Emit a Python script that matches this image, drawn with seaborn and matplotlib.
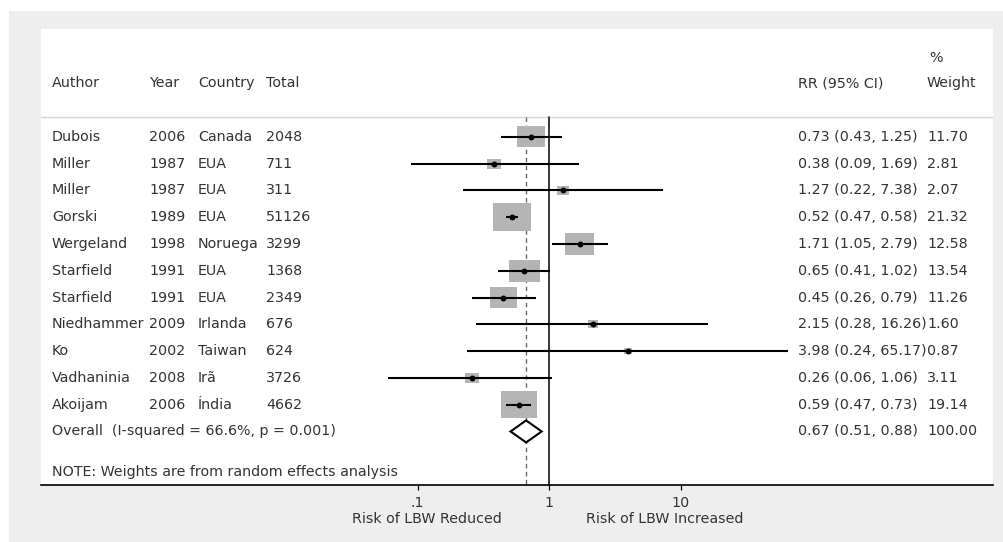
import numpy as np
import pandas as pd
import matplotlib
matplotlib.use("Agg")
import matplotlib.pyplot as plt
import matplotlib.transforms as mtransforms
from matplotlib.path import Path
from matplotlib.ticker import NullLocator
import seaborn as sns

# ---- study data -------------------------------------------------------------
authors = ["Dubois", "Miller", "Miller", "Gorski", "Wergeland", "Starfield",
           "Starfield", "Niedhammer", "Ko", "Vadhaninia", "Akoijam"]
years = [2006, 1987, 1987, 1989, 1998, 1991, 1991, 2009, 2002, 2008, 2006]
countries = ["Canada", "EUA", "EUA", "EUA", "Noruega", "EUA", "EUA",
             "Irlanda", "Taiwan", "Irã", "Índia"]
totals = [2048, 711, 311, 51126, 3299, 1368, 2349, 676, 624, 3726, 4662]
rr = [0.73, 0.38, 1.27, 0.52, 1.71, 0.65, 0.45, 2.15, 3.98, 0.26, 0.59]
ci_low = [0.43, 0.09, 0.22, 0.47, 1.05, 0.41, 0.26, 0.28, 0.24, 0.06, 0.47]
ci_high = [1.25, 1.69, 7.38, 0.58, 2.79, 1.02, 0.79, 16.26, 65.17, 1.06, 0.73]
weights = [11.70, 2.81, 2.07, 21.32, 12.58, 13.54, 11.26, 1.60, 0.87, 3.11, 19.14]

overall_rr, overall_low, overall_high = 0.67, 0.51, 0.88
overall_label = "Overall  (I-squared = 66.6%, p = 0.001)"
note_label = "NOTE: Weights are from random effects analysis"
tick_values = [0.1, 1, 10]
tick_labels = [".1", "1", "10"]

df = pd.DataFrame({"row": np.arange(len(authors)), "rr": rr,
                   "lo": ci_low, "hi": ci_high, "weight": weights})

# ---- style ------------------------------------------------------------------
sns.set_theme(style="white")
plt.rcParams["font.family"] = ["DejaVu Sans"]
FS = 10.3
TXT = "#333333"

W, H = 1004, 542
fig = plt.figure(figsize=(W / 100, H / 100), dpi=100)
fig.patch.set_facecolor("white")

# grey graph region behind the white plot panel
bg = fig.add_axes([9 / W, 0, 1 - 9 / W, 1 - 11 / H], zorder=-5)
bg.set_facecolor("#eeeeee")
bg.set_xticks([])
bg.set_yticks([])
for s in bg.spines.values():
    s.set_visible(False)

ax = fig.add_axes([41 / W, (H - 485) / H, 952 / W, 456 / H], zorder=1)
ax.set_facecolor("white")
ax.set_xscale("log")

# log axis: the plot panel spans ~7.2 decades, with 1 placed at 53% of width
dec = 131.5
ax.set_xlim(10 ** ((41 - 549) / dec), 10 ** ((993 - 549) / dec))
y_top, y_bottom = -4.03, 13.0
ax.set_ylim(y_bottom, y_top)

sep_y = -0.75
n = len(authors)

# header separator, null line and overall-effect line
ax.axhline(sep_y, color="#d6d6d6", lw=1.0, zorder=1)
ax.plot([1, 1], [sep_y, y_bottom], color="black", lw=1.1, zorder=1)
ax.plot([overall_rr, overall_rr], [sep_y, y_bottom], color="#6a6a6a",
        lw=1.0, ls=(0, (3.2, 2.6)), zorder=1)

# weight boxes: area proportional to study weight
box = Path([(-0.5, -0.37), (0.5, -0.37), (0.5, 0.37), (-0.5, 0.37), (-0.5, -0.37)],
           [Path.MOVETO, Path.LINETO, Path.LINETO, Path.LINETO, Path.CLOSEPOLY])
sns.scatterplot(data=df, x="rr", y="row", size="weight", sizes=(0, 748.6),
                size_norm=(0, max(weights)), marker=box, color="#b4b4b4",
                linewidth=0, legend=False, ax=ax, zorder=2)

# confidence intervals
ax.hlines(df["row"], df["lo"], df["hi"], color="black", lw=1.5, zorder=3)

# point estimates
sns.scatterplot(data=df, x="rr", y="row", color="black", s=18, linewidth=0,
                legend=False, ax=ax, zorder=4)

# pooled estimate diamond
oy = n
half_h = 0.41
ax.fill([overall_low, overall_rr, overall_high, overall_rr],
        [oy, oy - half_h, oy, oy + half_h],
        facecolor="white", edgecolor="black", lw=1.5, zorder=3)

# ---- text columns -----------------------------------------------------------
blend = mtransforms.blended_transform_factory(ax.transAxes, ax.transData)

def col(px):
    return (px - 41) / 952

cols = {"author": col(52), "year": col(149), "country": col(198),
        "total": col(266), "rr": col(798), "weight": col(927)}

hdr_y = -2.01
for key, label in [("author", "Author"), ("year", "Year"), ("country", "Country"),
                   ("total", "Total"), ("rr", "RR (95% CI)"), ("weight", "Weight")]:
    ax.text(cols[key], hdr_y, label, transform=blend, ha="left", va="center",
            fontsize=FS, color=TXT)
ax.text(col(929), -2.95, "%", transform=blend, ha="left", va="center",
        fontsize=FS, color=TXT)

for i in range(n):
    vals = {"author": authors[i], "year": str(years[i]), "country": countries[i],
            "total": str(totals[i]),
            "rr": f"{rr[i]:.2f} ({ci_low[i]:.2f}, {ci_high[i]:.2f})",
            "weight": f"{weights[i]:.2f}"}
    for key, s in vals.items():
        ax.text(cols[key], i, s, transform=blend, ha="left", va="center",
                fontsize=FS, color=TXT)

ax.text(cols["author"], oy, overall_label, transform=blend, ha="left",
        va="center", fontsize=FS, color=TXT)
ax.text(cols["rr"], oy,
        f"{overall_rr:.2f} ({overall_low:.2f}, {overall_high:.2f})",
        transform=blend, ha="left", va="center", fontsize=FS, color=TXT)
ax.text(cols["weight"], oy, f"{sum(weights):.2f}", transform=blend, ha="left",
        va="center", fontsize=FS, color=TXT)
ax.text(cols["author"], 12.51, note_label, transform=blend, ha="left",
        va="center", fontsize=FS, color=TXT)

# ---- axis -------------------------------------------------------------------
for side in ["top", "left", "right"]:
    ax.spines[side].set_visible(False)
ax.spines["bottom"].set_color("black")
ax.spines["bottom"].set_linewidth(1.2)
ax.set_xticks(tick_values)
ax.set_xticklabels(tick_labels)
ax.xaxis.set_minor_locator(NullLocator())
ax.set_yticks([])
ax.set_xlabel("")
ax.set_ylabel("")
ax.tick_params(axis="x", bottom=True, length=3.6, width=0.9, color="black",
               direction="out", pad=4.5, labelsize=FS, labelcolor=TXT)

ax.text(col(427), (485 - 519) / 456, "Risk of LBW Reduced", transform=ax.transAxes,
        ha="center", va="center", fontsize=FS, color=TXT)
ax.text(col(665), (485 - 519) / 456, "Risk of LBW Increased", transform=ax.transAxes,
        ha="center", va="center", fontsize=FS, color=TXT)

fig.savefig("out.png", dpi=100)
